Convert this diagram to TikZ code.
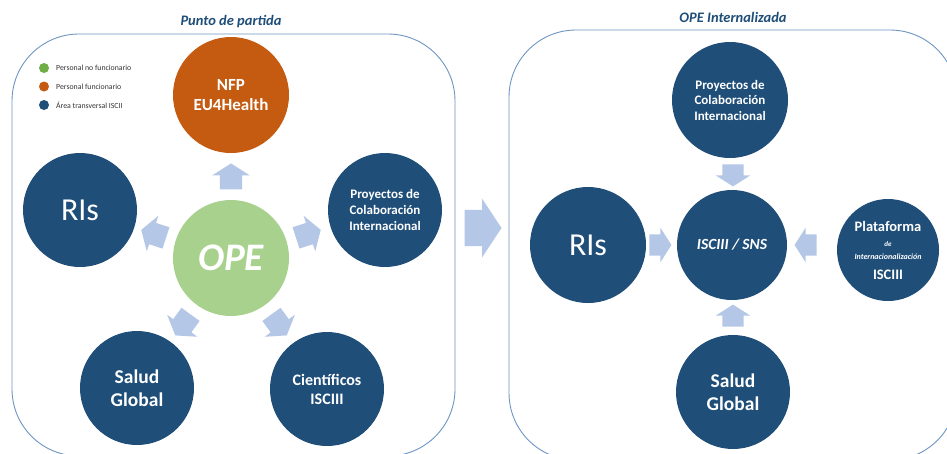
\documentclass[tikz,border=0pt]{standalone}
\usepackage{fontspec}
\setmainfont{Carlito}
\usetikzlibrary{shapes.arrows}
\definecolor{dblue}{RGB}{31,78,121}
\definecolor{orng}{RGB}{197,90,17}
\definecolor{lgreen}{RGB}{169,209,142}
\definecolor{legreen}{RGB}{112,173,71}
\definecolor{larrow}{RGB}{180,199,231}
\definecolor{framec}{RGB}{110,150,195}
\definecolor{ttl}{RGB}{31,78,121}
\newcommand{\fsz}[2]{\fontsize{#1}{#2}\selectfont}
\begin{document}
\begin{tikzpicture}[x=1pt,y=-1pt,
  circ/.style={circle, fill=dblue, text=white, minimum size=114pt, inner sep=0pt, align=center, font=\bfseries},
  blk/.style={single arrow, fill=larrow, draw=none, minimum height=26pt, minimum width=0pt,
     inner xsep=0pt, inner ysep=11pt,
     single arrow head extend=7.5pt, single arrow tip angle=115, rotate=#1},
  sblk/.style={blk=#1, minimum height=22pt, inner ysep=10.5pt, single arrow head extend=6.5pt},
  panel/.style={draw=framec, line width=0.9pt, rounded corners=67pt},
  ttlstyle/.style={text=ttl, font=\fsz{14.5}{17}\bfseries\itshape},
  legdot/.style={circle, minimum size=10pt, inner sep=0pt},
  legtxt/.style={anchor=west, font=\fsz{7.8}{9}, text=black!80, inner sep=0pt}]
\useasboundingbox (0,0) rectangle (947,453);
\clip (0,0) rectangle (947,453);
\fill[white] (0,0) rectangle (947,453);

% panels
\draw[panel] (12,34) rectangle (455,456);
\draw[panel] (509,30) rectangle (957,460);

% titles
\node[ttlstyle] (t1) at (231,22) {Punto de partida};
\node[ttlstyle] (t2) at (733,17) {OPE Internalizada};

% legend
\node[legdot, fill=legreen] (d1) at (44,68) {};
\node[legdot, fill=orng] (d2) at (44,86.5) {};
\node[legdot, fill=dblue] (d3) at (44,105) {};
\node[legtxt] (l1) at (56,68) {Personal no funcionario};
\node[legtxt] (l2) at (56,86.5) {Personal funcionario};
\node[legtxt] (l3) at (56,105) {Área transversal ISCII};

% left panel circles
\node[circ, fill=lgreen, minimum size=116pt, font=\fsz{39}{40}\bfseries\itshape] (ope) at (231,258) {OPE};
\node[circ, fill=orng, minimum size=116pt, font=\fsz{17}{20}\bfseries] (nfp) at (231,95) {NFP\\EU4Health};
\node[circ, font=\fsz{32}{34}] (ris1) at (80,210) {RIs};
\node[circ, font=\fsz{13}{16}\bfseries] (pc1) at (385,210) {Proyectos de\\Colaboración\\Internacional};
\node[circ, font=\fsz{19.5}{23}\bfseries] (sg1) at (137,388) {Salud\\Global};
\node[circ, font=\fsz{16}{19}\bfseries] (ci1) at (327,389) {Científicos\\ISCIII};

% left panel arrows
\node[blk=90] (a1) at (231,180) {};
\node[blk=162] (a2) at (157,235) {};
\node[blk=18] (a3) at (305,235) {};
\node[blk=234] (a4) at (185,322) {};
\node[blk=306] (a5) at (277,322) {};

% big arrow
\node[single arrow, fill=larrow, minimum height=37pt, minimum width=0pt,
      inner xsep=0pt, inner ysep=18pt,
      single arrow head extend=11pt, single arrow tip angle=113] (big) at (477,228) {};

% right panel circles
\node[circ, minimum size=110pt, font=\fsz{15.5}{18}\bfseries\itshape] (isc) at (732,245) {ISCIII / SNS};
\node[circ, minimum size=116pt, font=\fsz{13}{15.5}\bfseries] (pc2) at (730,100) {Proyectos de\\Colaboración\\Internacional};
\node[circ, minimum size=116pt, font=\fsz{32}{34}] (ris2) at (588,245) {RIs};
\node[circ, minimum size=114pt, font=\fsz{19.5}{23}\bfseries] (sg2) at (733,392) {Salud\\Global};
\node[circ, minimum size=102pt, font=\fsz{14.5}{16}\bfseries] (pla) at (888,250)
  {Plataforma\\[-1pt]{\fsz{7}{7}\itshape de}\\[-3pt]{\fsz{8}{8}\itshape Internacionalización}\\[4pt]ISCIII};

% right panel arrows
\node[sblk=-90] (b1) at (733,172) {};
\node[sblk=0] (b2) at (657,245) {};
\node[sblk=180] (b3) at (809,245) {};
\node[sblk=90] (b4) at (733,319) {};
\end{tikzpicture}
\end{document}
